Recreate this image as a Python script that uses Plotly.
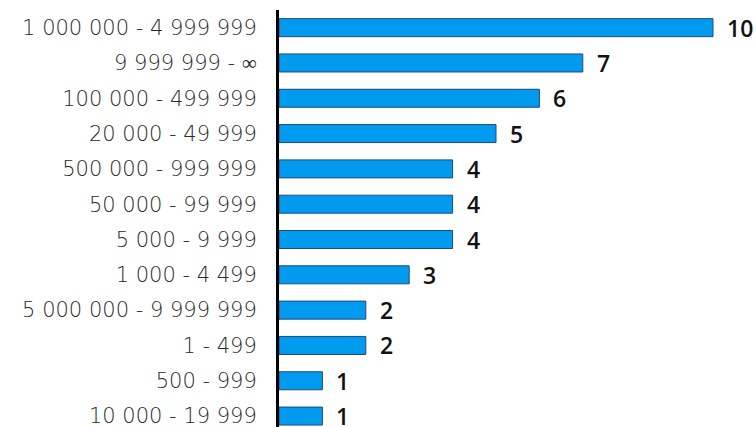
import plotly.graph_objects as go

categories = ["1 000 000 - 4 999 999", "9 999 999 - ∞", "100 000 - 499 999", "20 000 - 49 999",
              "500 000 - 999 999", "50 000 - 99 999", "5 000 - 9 999", "1 000 - 4 499",
              "5 000 000 - 9 999 999", "1 - 499", "500 - 999", "10 000 - 19 999"]
values = [10, 7, 6, 5, 4, 4, 4, 3, 2, 2, 1, 1]

fig = go.Figure(go.Bar(
    x=values, y=categories, orientation="h",
    marker=dict(color="#009BEF", line=dict(color="#1E4A7E", width=1)),
    width=0.51, hoverinfo="skip",
))

for v, c in zip(values, categories):
    fig.add_annotation(x=v, y=c, text=str(v), showarrow=False, xanchor="left",
                       xshift=12, font=dict(family="Open Sans", size=23, color="#111", weight=600))

fig.update_layout(
    width=756, height=427,
    margin=dict(l=279, r=0, t=10, b=0, autoexpand=False),
    plot_bgcolor="white", paper_bgcolor="white",
    showlegend=False,
    xaxis=dict(range=[0, 477 / 43.4], visible=False, fixedrange=True, automargin=False),
    yaxis=dict(type="category", categoryorder="array", categoryarray=categories,
               range=[11.31, -0.5], showline=True, linewidth=3, linecolor="black",
               showgrid=False, ticks="", ticklabelstandoff=15, automargin=False,
               fixedrange=True,
               tickfont=dict(family="DejaVu Sans", size=21, color="#2a2a2a", weight=200)),
)

fig.write_html("out.html", config={"displayModeBar": False},
               post_script="document.body.style.margin='0';")
